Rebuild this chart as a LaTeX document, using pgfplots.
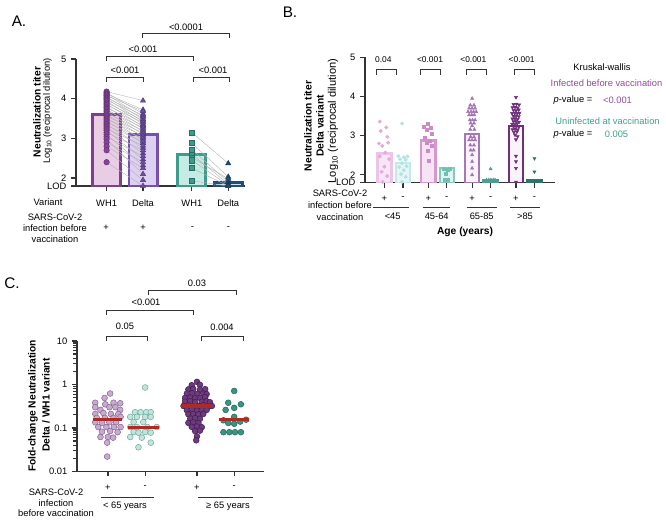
\documentclass[border=0pt]{standalone}
\usepackage{pgfplots}
\pgfplotsset{compat=1.18}
\usepackage{pgfplotstable}
\usepackage{fontspec}
\setmainfont{Liberation Sans}

\definecolor{axc}{HTML}{333333}
\definecolor{AWf}{HTML}{E9CDE5}\definecolor{AWd}{HTML}{7E3F93}\definecolor{AWp}{HTML}{85449A}
\definecolor{ADf}{HTML}{DDD0F1}\definecolor{ADd}{HTML}{7550AE}\definecolor{ADp}{HTML}{6E4EA2}
\definecolor{AUWf}{HTML}{C6EBE4}\definecolor{AUWd}{HTML}{3D9B8C}\definecolor{AUWp}{HTML}{3D9B8C}
\definecolor{AUDf}{HTML}{D2E3F0}\definecolor{AUDd}{HTML}{1F4E7A}\definecolor{AUDp}{HTML}{1F4E7A}
\definecolor{bonep}{HTML}{E3ABDB}\definecolor{bonef}{HTML}{F7E6F5}\definecolor{boned}{HTML}{EDC3E8}
\definecolor{btwop}{HTML}{B2E3E3}\definecolor{btwof}{HTML}{E6F6F6}\definecolor{btwod}{HTML}{C4E9E9}
\definecolor{bthrp}{HTML}{CE8AC6}\definecolor{bthrf}{HTML}{F6E4F4}\definecolor{bthrd}{HTML}{D597CD}
\definecolor{bfoup}{HTML}{72BFB3}\definecolor{bfouf}{HTML}{E0F3EF}\definecolor{bfoud}{HTML}{86C9BF}
\definecolor{bfivp}{HTML}{A274B4}\definecolor{bfivf}{HTML}{FAF4FA}\definecolor{bfivd}{HTML}{A577B7}
\definecolor{bsixp}{HTML}{4E9E8F}\definecolor{bsixf}{HTML}{E2F1EE}\definecolor{bsixd}{HTML}{4E9E8F}
\definecolor{bsevp}{HTML}{6E2E7A}\definecolor{bsevf}{HTML}{FAF4FA}\definecolor{bsevd}{HTML}{6E2E7A}
\definecolor{beigp}{HTML}{2E7569}\definecolor{beigf}{HTML}{E2F1EE}\definecolor{beigd}{HTML}{2E7569}
\definecolor{legpur}{HTML}{8E4A9E}\definecolor{legtea}{HTML}{3DA08F}
\definecolor{cone}{HTML}{C9A9D3}\definecolor{coned}{HTML}{7F6189}
\definecolor{ctwo}{HTML}{BEE6DD}\definecolor{ctwod}{HTML}{6AA59A}
\definecolor{cthr}{HTML}{6E3A7E}\definecolor{cthrd}{HTML}{3E1A4E}
\definecolor{cfou}{HTML}{3A9484}\definecolor{cfoud}{HTML}{1E6458}
\definecolor{cmed}{HTML}{AE2A22}

\newcommand\ft{\fontsize{7}{8.4}\selectfont}
\newcommand\fb{\fontsize{7.7}{9}\selectfont\bfseries}
\newcommand\fl{\fontsize{11.5}{13}\selectfont}

\pgfplotsset{
  gp/.style={scale only axis, anchor=south west,
    axis x line*=bottom, axis y line*=left,
    axis line style={line width=0.9pt, axc},
    tick style={line width=0.9pt, axc},
    tick align=outside, major tick length=3.75pt,
    ticklabel style={font=\ft},
    xticklabel style={yshift=-3pt}},
  gpo/.style={scale only axis, anchor=south west, hide axis, clip=false},
  A/.style={at={(57pt,-139.5pt)}, width=126.75pt, height=95.25pt,
    xmin=-0.84, xmax=3.8, ymin=1.8, ymax=5},
  B/.style={at={(273.75pt,-137.03pt)}, width=142.5pt, height=94.05pt,
    xmin=-1.05, xmax=9.22, ymin=1.8, ymax=5},
  C/.style={at={(57.75pt,-353.6pt)}, width=140.25pt, height=97.9pt,
    xmin=-0.83, xmax=4.19, ymin=0.01, ymax=10},
}

% ---------- Panel A data ----------
\pgfplotstableread{
w d
4.18 3.95
4.15 3.62
4.12 3.72
4.10 3.55
4.08 3.68
4.05 3.48
4.02 3.58
4.00 3.42
3.97 3.52
3.94 3.36
3.90 3.45
3.87 3.30
3.84 3.40
3.80 3.24
3.77 3.33
3.74 3.17
3.70 3.27
3.67 3.10
3.63 3.20
3.60 3.04
3.56 3.14
3.52 2.96
3.48 3.07
3.44 2.88
3.40 3.00
3.36 2.76
3.32 2.92
3.28 2.62
3.24 2.82
3.20 2.47
3.15 2.70
3.10 2.32
3.04 2.55
2.98 2.10
2.90 2.40
2.80 2.25
2.70 1.95
2.40 1.80
}\pairsInf
\pgfplotstableread{
w d
3.15 2.37
2.88 2.03
2.72 1.90
2.60 1.85
2.52 1.98
2.45 1.82
2.25 1.80
1.93 1.80
}\pairsUn

% ---------- Panel B data ----------
\pgfplotstableread{
x y
-0.25 3.36
0.10 3.21
-0.20 3.12
0.15 2.97
-0.30 2.80
0.20 2.82
-0.12 2.74
0.05 2.57
-0.25 2.47
0.25 2.40
0.00 2.21
-0.15 2.08
0.15 1.97
-0.10 1.82
}\bone
\pgfplotstableread{
x y
0.95 3.31
0.75 2.48
1.05 2.45
1.25 2.47
0.85 2.40
1.15 2.38
0.95 2.30
1.20 2.22
0.80 2.20
1.05 2.12
0.90 2.02
1.15 1.95
0.95 1.82
}\btwo
\pgfplotstableread{
x y
2.32 3.30
2.15 3.22
2.50 3.20
2.30 3.14
2.55 3.05
2.20 2.95
2.45 2.88
2.30 2.82
2.55 2.75
2.35 2.62
2.40 2.35
}\bthr
\pgfplotstableread{
x y
3.20 2.15
3.40 2.12
3.55 2.15
3.30 2.02
3.25 1.88
3.45 1.88
}\bfou
\pgfplotstableread{
x y
4.74 3.95
4.64 3.78
4.84 3.78
4.58 3.70
4.74 3.70
4.90 3.70
4.52 3.61
4.68 3.61
4.82 3.61
4.96 3.61
4.58 3.53
4.72 3.53
4.86 3.53
4.62 3.40
4.76 3.40
4.90 3.40
4.66 3.32
4.84 3.32
4.74 3.25
4.64 3.16
4.86 3.16
4.66 2.97
4.84 2.97
4.58 2.89
4.74 2.89
4.90 2.89
4.64 2.76
4.84 2.76
4.66 2.63
4.82 2.63
4.74 2.51
4.74 2.34
4.74 2.17
4.74 2.00
}\bfiv
\pgfplotstableread{
x y
5.74 2.15
5.52 1.87
5.64 1.87
5.76 1.87
5.88 1.87
5.98 1.87
}\bsix
\pgfplotstableread{
x y
7.11 3.98
6.98 3.80
7.14 3.81
7.28 3.79
6.92 3.72
7.06 3.73
7.20 3.71
6.98 3.65
7.12 3.64
7.26 3.66
6.90 3.57
7.04 3.58
7.18 3.57
7.30 3.58
6.98 3.50
7.12 3.51
7.26 3.49
6.92 3.43
7.06 3.44
7.20 3.42
6.98 3.36
7.12 3.37
7.28 3.35
6.90 3.30
7.04 3.29
7.18 3.31
6.98 3.23
7.12 3.24
7.26 3.22
6.92 3.16
7.06 3.17
7.20 3.15
7.00 3.09
7.16 3.10
7.06 3.02
7.20 2.98
7.11 2.90
7.11 2.48
7.11 2.34
7.11 2.17
7.11 1.82
}\bsev
\pgfplotstableread{
x y
8.11 2.42
8.11 2.08
7.94 1.85
8.04 1.85
8.14 1.85
8.24 1.85
}\beig

% ---------- Panel C data ----------
\pgfplotstableread{
x y
0.06 0.62
-0.09 0.49
-0.34 0.38
-0.07 0.35
0.15 0.38
0.33 0.37
-0.34 0.30
-0.20 0.26
0.04 0.30
0.20 0.30
0.33 0.26
-0.34 0.21
-0.12 0.22
0.08 0.21
0.28 0.21
-0.30 0.17
-0.08 0.17
0.15 0.17
0.34 0.18
-0.34 0.135
-0.16 0.13
0.04 0.135
0.22 0.135
-0.26 0.105
-0.04 0.105
0.16 0.105
0.34 0.105
-0.16 0.082
0.06 0.085
0.26 0.080
-0.20 0.062
0.00 0.062
0.14 0.060
-0.02 0.046
-0.02 0.022
}\cg
\pgfplotstableread{
x y
1.00 0.85
0.73 0.23
0.88 0.23
1.03 0.23
1.15 0.23
0.60 0.18
0.78 0.18
1.00 0.18
1.15 0.18
0.69 0.137
0.95 0.137
0.60 0.105
0.78 0.105
1.06 0.105
1.31 0.105
0.69 0.081
0.82 0.078
1.00 0.081
1.15 0.078
0.60 0.062
0.91 0.060
1.15 0.046
0.82 0.036
}\cgg
\pgfplotstableread{
x y
2.39 1.15
2.25 0.96
2.47 0.98
2.16 0.77
2.29 0.79
2.47 0.76
2.61 0.78
2.12 0.62
2.25 0.63
2.40 0.61
2.56 0.62
2.65 0.60
2.07 0.49
2.21 0.50
2.34 0.48
2.47 0.49
2.61 0.51
2.07 0.40
2.21 0.41
2.34 0.39
2.52 0.40
2.65 0.41
2.74 0.39
2.03 0.32
2.16 0.33
2.29 0.31
2.43 0.32
2.56 0.33
2.70 0.31
2.79 0.32
2.12 0.256
2.25 0.26
2.39 0.25
2.52 0.256
2.65 0.26
2.16 0.207
2.29 0.21
2.43 0.205
2.56 0.21
2.21 0.164
2.34 0.168
2.47 0.162
2.16 0.131
2.29 0.134
2.43 0.129
2.25 0.106
2.39 0.108
2.52 0.104
2.34 0.085
2.47 0.087
2.39 0.064
2.37 0.052
}\cggg
\pgfplotstableread{
x y
3.39 0.71
3.23 0.38
3.57 0.35
3.39 0.29
3.16 0.26
3.39 0.18
3.10 0.15
3.71 0.155
3.55 0.14
3.23 0.13
3.39 0.125
3.10 0.08
3.26 0.08
3.41 0.08
3.57 0.08
}\cgggg

\begin{document}
\begin{tikzpicture}
\path[use as bounding box] (0,0) rectangle (499.5pt,-391.5pt);

% ================= Panel A =================
\begin{axis}[gp, A,
  ytick={1.8,2,3,4,5}, yticklabels={LOD,2,3,4,5},
  xtick={0,1,2.34,3.34}, xticklabels={WH1,Delta,WH1,Delta}]
\addplot[ybar, bar width=0.77, bar shift=0pt, fill=AWf, draw=AWd, line width=2.2pt] coordinates {(0,3.59)};
\addplot[ybar, bar width=0.77, bar shift=0pt, fill=ADf, draw=ADd, line width=2.2pt] coordinates {(1,3.09)};
\addplot[ybar, bar width=0.77, bar shift=0pt, fill=AUWf, draw=AUWd, line width=2.2pt] coordinates {(2.34,2.60)};
\addplot[ybar, bar width=0.77, bar shift=0pt, fill=AUDf, draw=AUDd, line width=2.2pt] coordinates {(3.34,1.88)};
\end{axis}
\begin{axis}[gpo, A]
\addplot[gray!60, line width=0.3pt, quiver={u=1, v=\thisrow{d}-\thisrow{w}}] table[x expr=0, y=w] {\pairsInf};
\addplot[gray!60, line width=0.3pt, quiver={u=1, v=\thisrow{d}-\thisrow{w}}] table[x expr=2.34, y=w] {\pairsUn};
\addplot[only marks, mark=*, mark size=2.1pt, mark options={fill=AWp, draw=AWp!70!black, line width=0.3pt}] table[x expr=0, y=w] {\pairsInf};
\addplot[only marks, mark=triangle*, mark size=2.3pt, mark options={fill=ADp, draw=ADp!70!black, line width=0.3pt}] table[x expr=1, y=d] {\pairsInf};
\addplot[only marks, mark=square*, mark size=1.9pt, mark options={fill=AUWp, draw=AUWp!70!black, line width=0.3pt}] table[x expr=2.34, y=w] {\pairsUn};
\addplot[only marks, mark=triangle*, mark size=2.3pt, mark options={fill=AUDp, draw=AUDp!70!black, line width=0.3pt}] table[x expr=3.34, y=d] {\pairsUn};
\end{axis}

% ================= Panel B =================
\begin{axis}[gp, B,
  ytick={1.8,2,3,4,5}, yticklabels={LOD,2,3,4,5},
  xtick={0,1,2.37,3.37,4.74,5.74,7.11,8.11},
  xticklabels={+,-,+,-,+,-,+,-}]
\addplot[ybar, bar width=0.76, bar shift=0pt, fill=bonef, draw=boned, line width=1.8pt] coordinates {(0,2.55)};
\addplot[ybar, bar width=0.76, bar shift=0pt, fill=btwof, draw=btwod, line width=1.8pt] coordinates {(1,2.30)};
\addplot[ybar, bar width=0.76, bar shift=0pt, fill=bthrf, draw=bthrd, line width=1.8pt] coordinates {(2.37,2.88)};
\addplot[ybar, bar width=0.76, bar shift=0pt, fill=bfouf, draw=bfoud, line width=1.8pt] coordinates {(3.37,2.18)};
\addplot[ybar, bar width=0.76, bar shift=0pt, fill=bfivf, draw=bfivd, line width=1.8pt] coordinates {(4.74,3.04)};
\addplot[ybar, bar width=0.76, bar shift=0pt, fill=bsixf, draw=bsixd, line width=1.8pt] coordinates {(5.74,1.86)};
\addplot[ybar, bar width=0.76, bar shift=0pt, fill=bsevf, draw=bsevd, line width=1.8pt] coordinates {(7.11,3.25)};
\addplot[ybar, bar width=0.76, bar shift=0pt, fill=beigf, draw=beigd, line width=1.8pt] coordinates {(8.11,1.86)};
\end{axis}
\begin{axis}[gpo, B]
\addplot[only marks, mark=*, mark size=1.25pt, mark options={fill=bonep, draw=bonep}] table {\bone};
\addplot[only marks, mark=*, mark size=1.25pt, mark options={fill=btwop, draw=btwop}] table {\btwo};
\addplot[only marks, mark=square*, mark size=1.1pt, mark options={fill=bthrp, draw=bthrp}] table {\bthr};
\addplot[only marks, mark=square*, mark size=1.1pt, mark options={fill=bfoup, draw=bfoup}] table {\bfou};
\addplot[only marks, mark=triangle*, mark size=1.35pt, mark options={fill=bfivp, draw=bfivp}] table {\bfiv};
\addplot[only marks, mark=triangle*, mark size=1.35pt, mark options={fill=bsixp, draw=bsixp}] table {\bsix};
\addplot[only marks, mark=triangle*, mark size=1.35pt, mark options={fill=bsevp, draw=bsevp, rotate=180}] table {\bsev};
\addplot[only marks, mark=triangle*, mark size=1.35pt, mark options={fill=beigp, draw=beigp, rotate=180}] table {\beig};
\end{axis}

% ================= Panel C =================
\begin{axis}[gp, C, ymode=log, clip=false,
  ytick={0.01,0.1,1,10}, yticklabels={0.01,0.1,1,10},
  xtick={0,1,2.39,3.39}, xticklabels={+,-,+,-}]
\addplot[only marks, mark=*, mark size=2.2pt, mark options={fill=cone, draw=coned, line width=0.35pt}] table {\cg};
\addplot[only marks, mark=*, mark size=2.2pt, mark options={fill=ctwo, draw=ctwod, line width=0.35pt}] table {\cgg};
\addplot[only marks, mark=*, mark size=2.2pt, mark options={fill=cthr, draw=cthrd, line width=0.35pt}] table {\cggg};
\addplot[only marks, mark=*, mark size=2.2pt, mark options={fill=cfou, draw=cfoud, line width=0.35pt}] table {\cgggg};
\end{axis}
\begin{axis}[gpo, C, ymode=log]
\addplot[cmed, line width=2.3pt] coordinates {(-0.41,0.16) (0.39,0.16)};
\addplot[cmed, line width=2.3pt] coordinates {(0.54,0.105) (1.38,0.105)};
\addplot[cmed, line width=2.3pt] coordinates {(1.98,0.32) (2.79,0.32)};
\addplot[cmed, line width=2.3pt] coordinates {(2.98,0.156) (3.79,0.156)};
\end{axis}

% ================= Annotations (pixel coordinates) =================
\begin{scope}[x=0.75pt, y=-0.75pt]
\tikzset{br/.style={line width=0.75pt, axc}}
% panel letters
\node[font=\fl] at (19,21) {A.};
\node[font=\fl] at (290,12) {B.};
\node[font=\fl] at (12,283) {C.};

% ---- A ----
\node[font=\fb, rotate=90] at (37,112) {Neutralization titer};
\node[font=\ft, rotate=90] at (47.5,111) {Log\textsubscript{10} (reciprocal dilution)};
\node[font=\ft] at (48,202) {Variant};
\node[font=\fontsize{7}{8.25}\selectfont, align=center] at (55,228) {SARS-CoV-2\\infection before\\vaccination};
\node[font=\ft] at (106,228) {+};
\node[font=\ft] at (143,228) {+};
\node[font=\ft] at (192.5,228) {-};
\node[font=\ft] at (228.5,228) {-};
\draw[br] (106,81.5) -- (106,77) -- (143,77) -- (143,81.5);
\node[font=\ft] at (125,70) {<0.001};
\draw[br] (106,60.5) -- (106,56) -- (193,56) -- (193,60.5);
\node[font=\ft] at (143,49) {<0.001};
\draw[br] (142,37.5) -- (142,33) -- (229,33) -- (229,37.5);
\node[font=\ft] at (186,27) {<0.0001};
\draw[br] (193,81.5) -- (193,77) -- (229,77) -- (229,81.5);
\node[font=\ft] at (213,70) {<0.001};

% ---- B ----
\node[font=\fb, rotate=90] at (308,126) {Neutralization titer};
\node[font=\fb, rotate=90] at (320,126) {Delta variant};
\node[font=\fontsize{8.3}{9}\selectfont, rotate=90] at (333,121) {Log\textsubscript{10} (reciprocal dilution)};
\node[font=\fontsize{7}{9}\selectfont, align=center] at (340,205) {SARS-CoV-2\\infection before\\vaccination};
\draw[line width=0.75pt, axc] (372.7,207) -- (409.3,207);
\draw[line width=0.75pt, axc] (422.7,207) -- (450,207);
\draw[line width=0.75pt, axc] (466.7,207) -- (496.7,207);
\draw[line width=0.75pt, axc] (510,207) -- (540,207);
\node[font=\ft] at (392.7,216.5) {<45};
\node[font=\ft] at (436.7,216.5) {45-64};
\node[font=\ft] at (481.7,216.5) {65-85};
\node[font=\ft] at (525,216.5) {>85};
\node[font=\fb] at (465,232) {Age (years)};
\draw[br] (376,74.5) -- (376,69.3) -- (396.7,69.3) -- (396.7,74.5);
\node[font=\fontsize{6.3}{7}\selectfont] at (383.3,60) {0.04};
\draw[br] (420,74.5) -- (420,69.3) -- (440.7,69.3) -- (440.7,74.5);
\node[font=\fontsize{6.3}{7}\selectfont] at (430,60) {<0.001};
\draw[br] (466.7,74.5) -- (466.7,69.3) -- (486.7,69.3) -- (486.7,74.5);
\node[font=\fontsize{6.3}{7}\selectfont] at (473.3,60) {<0.001};
\draw[br] (514,74.5) -- (514,69.3) -- (534.3,69.3) -- (534.3,74.5);
\node[font=\fontsize{6.3}{7}\selectfont] at (521.7,60) {<0.001};
\node[font=\ft] at (602,67) {Kruskal-wallis};
\node[font=\ft, text=legpur] at (606.5,83) {Infected before vaccination};
\node[font=\ft] at (573,100) {\textit{p}-value =};
\node[font=\ft, text=legpur] at (617.5,100) {<0.001};
\node[font=\ft, text=legtea] at (607.5,121) {Uninfected at vaccination};
\node[font=\ft] at (573,134) {\textit{p}-value =};
\node[font=\ft, text=legtea] at (616.5,134) {0.005};

% ---- C ----
\node[font=\fb, rotate=90] at (33,406) {Fold-change Neutralization};
\node[font=\fb, rotate=90] at (46,405) {Delta / WH1 variant};
\node[font=\fontsize{7}{7.8}\selectfont, align=center] at (56,503) {SARS-CoV-2\\infection\\before vaccination};
\draw[line width=0.75pt, axc] (101,497.3) -- (154,497.3);
\draw[line width=0.75pt, axc] (198,497.3) -- (253,497.3);
\node[font=\ft] at (125,506) {< 65 years};
\node[font=\ft] at (228,506) {≥ 65 years};
\draw[br] (148,295) -- (148,290.7) -- (236,290.7) -- (236,295);
\node[font=\ft] at (197,283.6) {0.03};
\draw[br] (106,314.5) -- (106,310) -- (193,310) -- (193,314.5);
\node[font=\ft] at (146,302.7) {<0.001};
\draw[br] (106,340.5) -- (106,336) -- (147,336) -- (147,340.5);
\node[font=\ft] at (125,326.7) {0.05};
\draw[br] (201.7,340.5) -- (201.7,336) -- (243,336) -- (243,340.5);
\node[font=\ft] at (222,327) {0.004};
\end{scope}
\end{tikzpicture}
\end{document}
